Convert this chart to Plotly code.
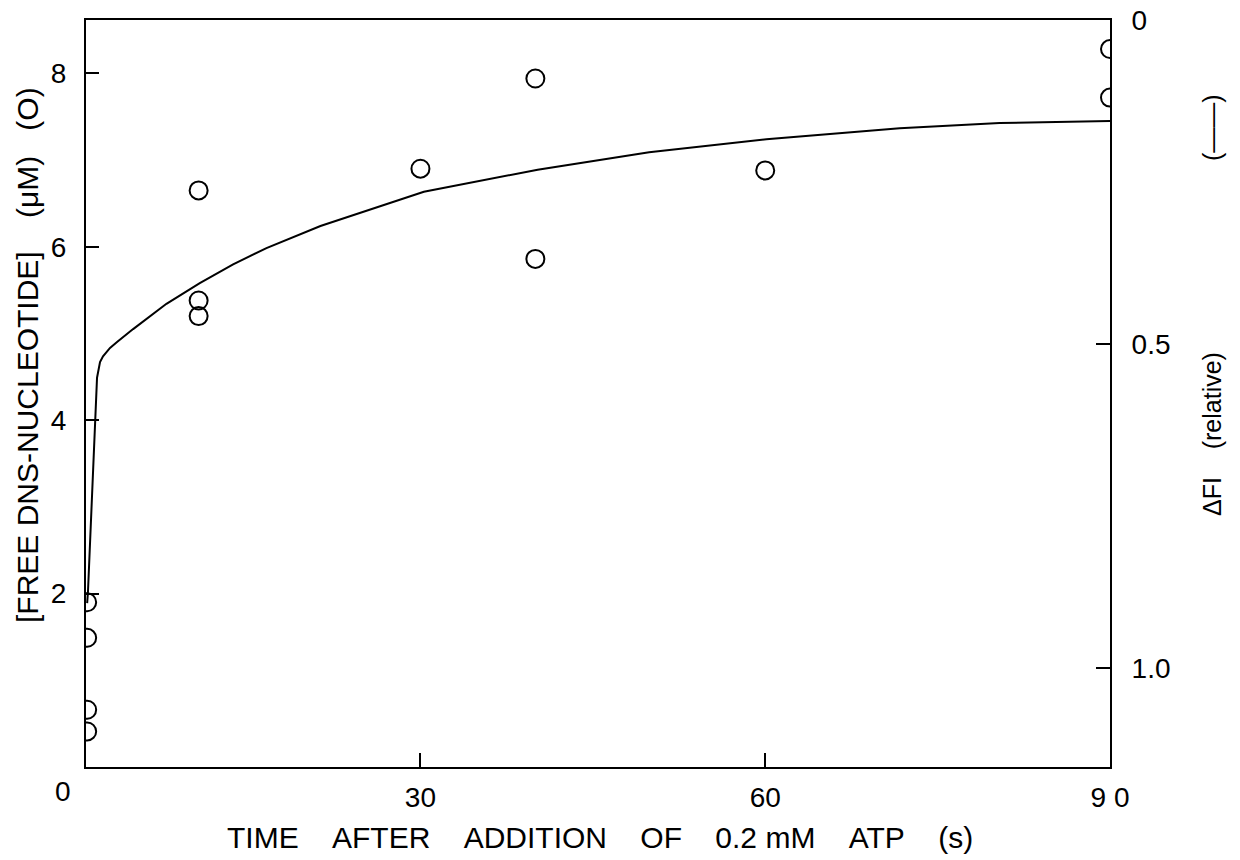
import plotly.graph_objects as go

# Circles: free DNS-nucleotide (uM), left axis
t_pts = [1.0, 1.0, 1.0, 1.0, 10.7, 10.7, 10.7, 30.0, 40.0, 40.0, 60.0, 90.0, 90.0]
c_pts = [1.90, 1.49, 0.66, 0.41, 6.65, 5.38, 5.20, 6.90, 7.94, 5.86, 6.88, 8.28, 7.72]

# Curve: fluorescence change (relative), right axis (reversed)
t_curve = [1.0, 1.07, 1.86, 2.12, 2.38, 2.99, 3.6, 5.0, 7.9, 10.8, 13.7, 16.6, 21.3,
           30.3, 40.2, 49.9, 60.1, 71.7, 80.4, 90.0]
f_curve = [0.900, 0.883, 0.552, 0.528, 0.519, 0.506, 0.497, 0.477, 0.438, 0.406, 0.377,
           0.352, 0.318, 0.265, 0.231, 0.204, 0.184, 0.167, 0.159, 0.156]

x_ticks = [30, 60, 90]
x_ticktext = ["30", "60", "9 0"]
y_ticks = [2, 4, 6, 8]
y2_ticks = [0, 0.5, 1.0]
y2_ticktext = ["0", "0.5", "1.0"]

FONT = "Liberation Sans"
NB = "\u00a0"

# Plot-area geometry in page pixels
L, T, W, H = 86, 20, 1024, 747
fig = go.Figure()
fig.add_trace(go.Scatter(x=t_curve, y=f_curve, mode="lines", yaxis="y2",
                         line=dict(color="black", width=2),
                         showlegend=False, hoverinfo="skip"))
fig.add_trace(go.Scatter(x=t_pts, y=c_pts, mode="markers",
                         marker=dict(symbol="circle-open", size=18, color="black",
                                     line=dict(color="black", width=2)),
                         showlegend=False))

def px(x): return (x - L) / W
def py(y): return (T + H - y) / H

axis_common = dict(ticks="inside", tickwidth=2, tickcolor="black",
                   showline=True, linecolor="black", linewidth=2,
                   showgrid=False, zeroline=False, automargin=False,
                   ticklabeloverflow="allow")

def ann(text, x, y, size, angle=0):
    return dict(text=text, x=px(x), y=py(y), xref="paper", yref="paper",
                xanchor="center", yanchor="middle", showarrow=False,
                textangle=angle, font=dict(size=size))

fig.update_layout(
    width=1240, height=860,
    margin=dict(l=L, r=1240 - L - W, t=T, b=860 - T - H),
    paper_bgcolor="white", plot_bgcolor="white",
    font=dict(family=FONT, size=28, color="black"),
    xaxis=dict(range=[0.9, 90], tickvals=x_ticks, ticktext=x_ticktext,
               ticklen=14, mirror=True, ticklabelstandoff=4, **axis_common),
    yaxis=dict(range=[0, 8.615], tickvals=y_ticks,
               ticklen=13, mirror=True, ticklabelstandoff=12, **axis_common),
    yaxis2=dict(range=[1.1528, 0], overlaying="y", side="right",
                tickvals=y2_ticks, ticktext=y2_ticktext,
                ticklen=14, ticklabelstandoff=14, **axis_common),
    annotations=[
        ann("0", 63, 791, 28),
        ann("TIME" + NB * 4 + "AFTER" + NB * 4 + "ADDITION" + NB * 4 + "OF" + NB * 4
            + "0.2" + NB + "mM" + NB * 4 + "ATP" + NB * 4 + "(s)", 600, 837, 30),
        ann("[FREE DNS-NUCLEOTIDE]" + NB * 4 + "(\u03bcM)" + NB * 3 + "(O)", 27, 355, 30, -90),
        ann("\u0394FI" + NB * 4 + "(relative)", 1212, 434, 25, -90),
        ann("(\u2014\u2014)", 1212, 128, 25, -90),
    ],
)

fig.write_html("out.html",
               config={"displayModeBar": False},
               post_script="document.body.style.margin='0';document.body.style.overflow='hidden';")
